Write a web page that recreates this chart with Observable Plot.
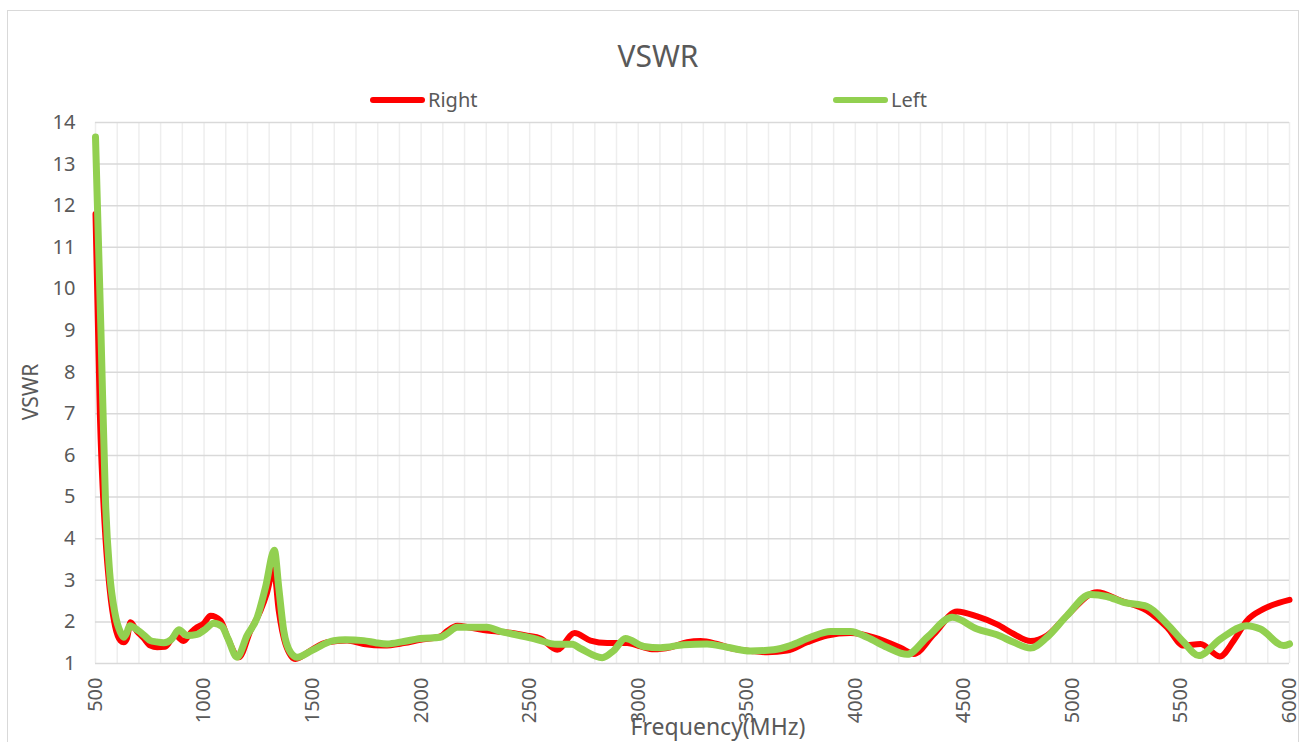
<!DOCTYPE html>
<html>
<head>
<meta charset="utf-8">
<script src="https://cdn.jsdelivr.net/npm/d3@7"></script>
<script src="https://cdn.jsdelivr.net/npm/@observablehq/plot@0.6"></script>
<style>
  html, body { margin: 0; padding: 0; background: #fff; }
  body { width: 1310px; height: 742px; position: relative; overflow: hidden; font-family: "Noto Sans", Lato, sans-serif; color: #595959; }
  #frame { position: absolute; left: 7px; top: 10px; width: 1292px; height: 740px; border: 1.5px solid #d9d9d9; box-sizing: border-box; }
  .abs { position: absolute; white-space: nowrap; }
  #title { left: 0; width: 1316px; text-align: center; top: 36px; font-size: 30px; line-height: 40px; }
  .sw { position: absolute; height: 6px; border-radius: 3px; }
  .lg { font-size: 20px; line-height: 24px; top: 88px; }
  #ylab { left: 30px; top: 392px; font-size: 21px; transform: translate(-50%, -50%) rotate(-90deg); }
  #xlab { left: 718px; top: 726px; font-size: 23px; transform: translate(-50%, -50%); }
  #chart { position: absolute; left: 0; top: 95px; }
</style>
</head>
<body>
<div id="frame"></div>
<div id="title" class="abs">VSWR</div>
<div class="sw" style="left:370px; top:97px; width:55px; background:#ff0000;"></div>
<div class="abs lg" style="left:428px;">Right</div>
<div class="sw" style="left:833px; top:97px; width:55px; background:#92d050;"></div>
<div class="abs lg" style="left:891px;">Left</div>
<div id="chart"></div>
<div id="ylab" class="abs">VSWR</div>
<div id="xlab" class="abs">Frequency(MHz)</div>
<script>
// Right series (red)
const rightFreq = [500, 520, 546, 565, 590, 615, 630, 645, 661, 690, 720, 753, 784, 820, 868, 906, 940, 968, 1000, 1030, 1076, 1110, 1160, 1214, 1260, 1290, 1321, 1344, 1375, 1421, 1490, 1567, 1659, 1735, 1828, 1920, 1997, 2089, 2120, 2166, 2230, 2304, 2411, 2488, 2550, 2627, 2706, 2780, 2857, 2949, 3010, 3072, 3149, 3225, 3287, 3363, 3440, 3520, 3594, 3686, 3778, 3870, 3978, 4085, 4208, 4269, 4361, 4469, 4561, 4653, 4730, 4807, 4883, 4975, 5114, 5221, 5344, 5436, 5513, 5590, 5679, 5743, 5804, 5881, 6000];
const rightVswr = [11.8, 7.0, 4.0, 2.8, 1.9, 1.55, 1.51, 1.6, 1.99, 1.78, 1.62, 1.43, 1.39, 1.40, 1.67, 1.54, 1.75, 1.87, 1.97, 2.15, 2.03, 1.6, 1.15, 1.79, 2.27, 2.7, 3.28, 2.27, 1.47, 1.11, 1.31, 1.51, 1.55, 1.47, 1.43, 1.49, 1.57, 1.65, 1.78, 1.91, 1.86, 1.79, 1.74, 1.67, 1.6, 1.33, 1.73, 1.55, 1.49, 1.49, 1.41, 1.34, 1.39, 1.51, 1.54, 1.47, 1.35, 1.30, 1.27, 1.31, 1.51, 1.67, 1.73, 1.63, 1.38, 1.23, 1.7, 2.25, 2.13, 1.94, 1.71, 1.54, 1.67, 2.15, 2.71, 2.51, 2.27, 1.87, 1.43, 1.47, 1.17, 1.55, 2.03, 2.31, 2.53];
// Left series (green)
const leftFreq = [500, 525, 546, 565, 590, 615, 630, 645, 657, 700, 730, 753, 780, 815, 850, 884, 922, 968, 1000, 1045, 1083, 1110, 1152, 1198, 1245, 1283, 1324, 1344, 1367, 1398, 1429, 1500, 1597, 1650, 1735, 1790, 1843, 1920, 1997, 2089, 2120, 2166, 2230, 2304, 2365, 2411, 2518, 2627, 2696, 2734, 2834, 2887, 2941, 3026, 3102, 3210, 3317, 3409, 3517, 3624, 3701, 3793, 3886, 3978, 4054, 4146, 4239, 4331, 4446, 4561, 4653, 4730, 4807, 4883, 4975, 5083, 5159, 5236, 5344, 5436, 5513, 5582, 5682, 5804, 5866, 5973, 6000];
const leftVswr = [13.65, 9.0, 4.9, 3.2, 2.2, 1.75, 1.63, 1.75, 1.91, 1.78, 1.65, 1.55, 1.52, 1.50, 1.58, 1.81, 1.67, 1.70, 1.80, 1.97, 1.89, 1.6, 1.15, 1.67, 2.11, 2.83, 3.72, 2.83, 1.79, 1.27, 1.15, 1.32, 1.55, 1.57, 1.55, 1.5, 1.47, 1.53, 1.6, 1.63, 1.72, 1.87, 1.87, 1.87, 1.77, 1.72, 1.6, 1.46, 1.46, 1.36, 1.14, 1.31, 1.6, 1.41, 1.38, 1.45, 1.47, 1.39, 1.30, 1.33, 1.43, 1.63, 1.77, 1.77, 1.63, 1.39, 1.22, 1.63, 2.11, 1.83, 1.69, 1.51, 1.37, 1.63, 2.15, 2.66, 2.61, 2.47, 2.37, 1.95, 1.51, 1.19, 1.59, 1.91, 1.83, 1.43, 1.47];
const xTicks = [500, 1000, 1500, 2000, 2500, 3000, 3500, 4000, 4500, 5000, 5500, 6000];
const yTicks = [1, 2, 3, 4, 5, 6, 7, 8, 9, 10, 11, 12, 13, 14];
const xMinor = d3.range(500, 6001, 100);

const right = rightFreq.map((f, i) => ({f, v: rightVswr[i]}));
const left = leftFreq.map((f, i) => ({f, v: leftVswr[i]}));

const chart = Plot.plot({
  width: 1310,
  height: 647,
  marginTop: 27,
  marginLeft: 95,
  marginRight: 21,
  marginBottom: 79,
  style: {fontFamily: '"Noto Sans", Lato, sans-serif', color: "#595959", background: "transparent", overflow: "visible"},
  x: {domain: [500, 6000]},
  y: {domain: [1, 14]},
  marks: [
    Plot.ruleX(xMinor, {stroke: "#eeeeee", strokeWidth: 1.5}),
    Plot.ruleY(yTicks, {stroke: "#d9d9d9", strokeWidth: 1.5}),
    Plot.axisX(xTicks, {tickSize: 0, tickPadding: 14, tickRotate: -90, fontSize: 20, fill: "#595959", label: null, tickFormat: d => String(d)}),
    Plot.axisY(yTicks, {tickSize: 0, tickPadding: 20, fontSize: 20, fill: "#595959", label: null, tickFormat: d => String(d)}),
    Plot.line(right, {x: "f", y: "v", stroke: "#ff0000", strokeWidth: 6, curve: "monotone-x", strokeLinejoin: "round", strokeLinecap: "round"}),
    Plot.line(left, {x: "f", y: "v", stroke: "#92d050", strokeWidth: 7, curve: "monotone-x", strokeLinejoin: "round", strokeLinecap: "round"})
  ]
});
document.getElementById("chart").appendChild(chart);
</script>
</body>
</html>
